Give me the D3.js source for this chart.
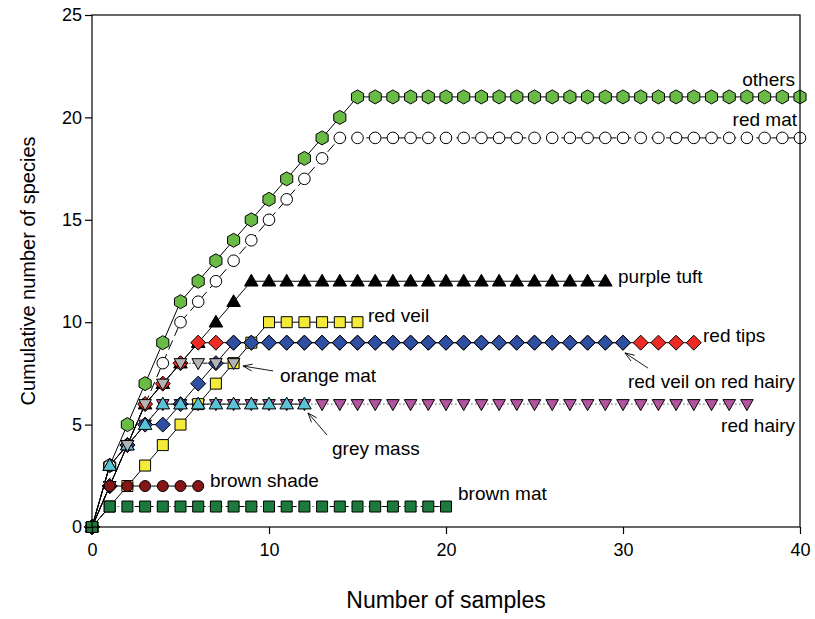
<!DOCTYPE html>
<html>
<head>
<meta charset="utf-8">
<script src="https://cdn.jsdelivr.net/npm/d3@7/dist/d3.min.js"></script>
<style>
  body { margin: 0; background: #fff; }
  svg text { font-family: "Liberation Sans", Arial, sans-serif; fill: #000; }
</style>
</head>
<body>
<svg id="chart" width="815" height="619"></svg>
<script>
// cumulative species per sample, x = 0, 1, 2, ...
const others      = [0,3,5,7,9,11,12,13,14,15,16,17,18,19,20,21,21,21,21,21,21,21,21,21,21,21,21,21,21,21,21,21,21,21,21,21,21,21,21,21,21];
const redMat      = [0,3,4,6,8,10,11,12,13,14,15,16,17,18,19,19,19,19,19,19,19,19,19,19,19,19,19,19,19,19,19,19,19,19,19,19,19,19,19,19,19];
const redHairy    = [0,2,4,5,6,6,6,6,6,6,6,6,6,6,6,6,6,6,6,6,6,6,6,6,6,6,6,6,6,6,6,6,6,6,6,6,6,6];
const purpleTuft  = [0,3,4,6,7,8,9,10,11,12,12,12,12,12,12,12,12,12,12,12,12,12,12,12,12,12,12,12,12,12];
const redTips     = [0,2,4,6,7,8,9,9,9,9,9,9,9,9,9,9,9,9,9,9,9,9,9,9,9,9,9,9,9,9,9,9,9,9,9];
const redVeil     = [0,1,2,3,4,5,6,7,8,9,10,10,10,10,10,10];
const veilOnHairy = [0,2,4,5,5,6,7,8,9,9,9,9,9,9,9,9,9,9,9,9,9,9,9,9,9,9,9,9,9,9,9];
const orangeMat   = [0,2,4,6,7,8,8,8,8];
const greyMass    = [0,3,4,5,6,6,6,6,6,6,6,6,6];
const brownShade  = [0,2,2,2,2,2,2];
const brownMat    = [0,1,1,1,1,1,1,1,1,1,1,1,1,1,1,1,1,1,1,1,1];

const xTicks = [0, 10, 20, 30, 40];
const yTicks = [0, 5, 10, 15, 20, 25];

// drawn bottom to top
const series = [
  {values: others,      shape: 'hex',   fill: '#6abb45', dash: null},
  {values: redMat,      shape: 'circle',fill: '#ffffff', dash: '10,5'},
  {values: redHairy,    shape: 'down',  fill: '#b3549f', dash: '1,3'},
  {values: purpleTuft,  shape: 'up',    fill: '#000000', dash: null},
  {values: redTips,     shape: 'diamond', fill: '#ee2a24', dash: null},
  {values: redVeil,     shape: 'square',fill: '#f3ea3a', dash: null},
  {values: veilOnHairy, shape: 'diamond', fill: '#2f4fa2', dash: null},
  {values: greyMass,    shape: 'up',    fill: '#5cc3d6', dash: null},
  {values: orangeMat,   shape: 'down',  fill: '#b4b4b4', dash: '5,2,1,2'},
  {values: brownShade,  shape: 'circle2', fill: '#861515', dash: null},
  {values: brownMat,    shape: 'square2', fill: '#1c7a3d', dash: '6,3,1,3'}
];

// labels placed in data units
const labels = [
  {text: 'others', x: 39.72, y: 21.87, anchor: 'end'},
  {text: 'red mat', x: 39.83, y: 19.9, anchor: 'end'},
  {text: 'purple tuft', x: 29.72, y: 12.26, anchor: 'start'},
  {text: 'red veil', x: 15.59, y: 10.35, anchor: 'start'},
  {text: 'red tips', x: 34.52, y: 9.37, anchor: 'start'},
  {text: 'red veil on red hairy', x: 30.28, y: 7.13, anchor: 'start'},
  {text: 'orange mat', x: 10.62, y: 7.42, anchor: 'start'},
  {text: 'grey mass', x: 13.56, y: 3.86, anchor: 'start'},
  {text: 'brown shade', x: 6.67, y: 2.29, anchor: 'start'},
  {text: 'brown mat', x: 20.68, y: 1.66, anchor: 'start'},
  {text: 'red hairy', x: 39.72, y: 4.98, anchor: 'end'}
];

const arrows = [
  {x1: 31.41, y1: 7.76, x2: 30.11, y2: 8.5},
  {x1: 10.23, y1: 7.62, x2: 8.53, y2: 7.86},
  {x1: 13.28, y1: 4.49, x2: 12.2, y2: 5.57}
];

const svg = d3.select('#chart');
const margin = {top: 15, left: 92, right: 15, bottom: 92};
const width = +svg.attr('width') - margin.left - margin.right;
const height = +svg.attr('height') - margin.top - margin.bottom;

const x = d3.scaleLinear().domain([0, 40]).range([0, width]);
const y = d3.scaleLinear().domain([0, 25]).range([height, 0]);

const g = svg.append('g').attr('transform', `translate(${margin.left},${margin.top})`);

function symbolPath(shape) {
  let pts;
  if (shape === 'hex') {
    const r = 7;
    pts = d3.range(6).map(i => {
      const a = (i * 60 - 90) * Math.PI / 180;
      return [r * Math.cos(a), r * Math.sin(a)];
    });
  } else if (shape === 'diamond') {
    pts = [[0,-7.5],[7.5,0],[0,7.5],[-7.5,0]];
  } else if (shape === 'square' || shape === 'square2') {
    const s = 5.5;
    pts = [[-s,-s],[s,-s],[s,s],[-s,s]];
  } else if (shape === 'up') {
    pts = [[0,-7],[6.8,4.8],[-6.8,4.8]];
  } else if (shape === 'down') {
    pts = [[0,6.5],[6.3,-4.5],[-6.3,-4.5]];
  } else {
    const r = shape === 'circle2' ? 5.5 : 5.8;
    return d3.symbol(d3.symbolCircle, Math.PI * r * r)();
  }
  return 'M' + pts.map(p => p.join(',')).join('L') + 'Z';
}

const line = d3.line().x((d, i) => x(i)).y(d => y(d));

series.forEach(s => {
  const sg = g.append('g');
  sg.append('path')
    .attr('d', line(s.values))
    .attr('fill', 'none')
    .attr('stroke', '#000')
    .attr('stroke-width', 1)
    .attr('stroke-dasharray', s.dash);
  sg.selectAll('path.pt').data(s.values).enter().append('path')
    .attr('class', 'pt')
    .attr('d', symbolPath(s.shape))
    .attr('transform', (d, i) => `translate(${x(i)},${y(d)})`)
    .attr('fill', s.fill)
    .attr('stroke', '#000')
    .attr('stroke-width', 1);
});

// frame
g.append('rect')
  .attr('width', width).attr('height', height)
  .attr('fill', 'none').attr('stroke', '#000').attr('stroke-width', 1.2);

const xAxis = g.append('g').attr('transform', `translate(0,${height})`)
  .call(d3.axisBottom(x).tickValues(xTicks).tickSize(7).tickPadding(9));
const yAxis = g.append('g')
  .call(d3.axisLeft(y).tickValues(yTicks).tickSize(7).tickPadding(3));
[xAxis, yAxis].forEach(a => {
  a.select('.domain').remove();
  a.selectAll('line').attr('stroke', '#000').attr('stroke-width', 1.2);
  a.selectAll('text').attr('font-size', 18).attr('fill', '#000')
    .attr('font-family', '"Liberation Sans", Arial, sans-serif');
});

svg.append('text')
  .attr('x', margin.left + x(20)).attr('y', 608)
  .attr('text-anchor', 'middle').attr('font-size', 23)
  .text('Number of samples');

svg.append('text')
  .attr('transform', `translate(35,${margin.top + y(12.5)}) rotate(-90)`)
  .attr('text-anchor', 'middle').attr('font-size', 20)
  .text('Cumulative number of species');

g.selectAll('text.lbl').data(labels).enter().append('text')
  .attr('class', 'lbl')
  .attr('x', d => x(d.x)).attr('y', d => y(d.y))
  .attr('dy', '0.35em')
  .attr('text-anchor', d => d.anchor)
  .attr('font-size', 19)
  .text(d => d.text);

arrows.forEach(a => {
  const x1 = x(a.x1), y1 = y(a.y1), x2 = x(a.x2), y2 = y(a.y2);
  const ang = Math.atan2(y1 - y2, x1 - x2);
  const head = 10, spread = 0.35;
  g.append('path')
    .attr('d', `M${x1},${y1}L${x2},${y2}` +
      `M${x2 + head * Math.cos(ang - spread)},${y2 + head * Math.sin(ang - spread)}L${x2},${y2}` +
      `L${x2 + head * Math.cos(ang + spread)},${y2 + head * Math.sin(ang + spread)}`)
    .attr('fill', 'none').attr('stroke', '#000').attr('stroke-width', 0.9);
});
</script>
</body>
</html>
